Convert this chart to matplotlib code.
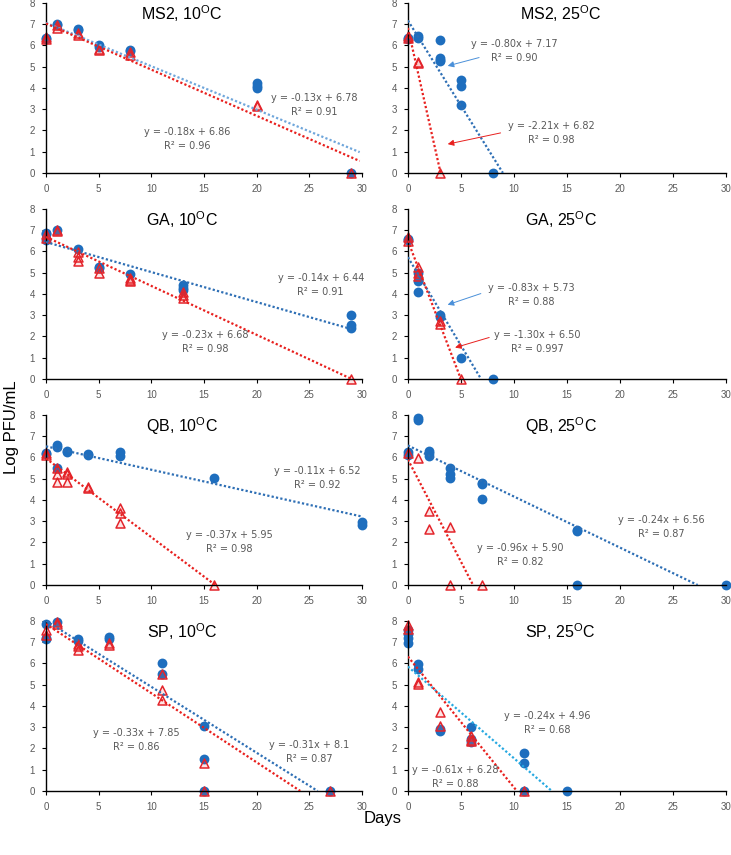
import matplotlib
matplotlib.use("Agg")
import matplotlib.pyplot as plt
import numpy as np

plt.rcParams['font.family'] = ['Liberation Sans', 'DejaVu Sans']
plt.rcParams['mathtext.default'] = 'regular'

# ---- data (days, log PFU/mL) ----
ms2_10_blue_x = [0, 0, 1, 1, 3, 3, 5, 5, 8, 8, 20, 20, 20, 29]
ms2_10_blue_y = [6.35, 6.3, 7.0, 6.95, 6.75, 6.7, 6.0, 5.9, 5.8, 5.75, 4.25, 4.1, 4.0, 0]
ms2_10_red_x = [0, 0, 1, 1, 3, 3, 5, 5, 8, 8, 20, 20, 29]
ms2_10_red_y = [6.4, 6.3, 6.95, 6.8, 6.6, 6.5, 5.85, 5.8, 5.7, 5.55, 3.2, 3.15, 0]

ms2_25_blue_x = [0, 0, 1, 1, 3, 3, 3, 3, 5, 5, 5, 8]
ms2_25_blue_y = [6.3, 6.35, 6.45, 6.35, 6.27, 5.4, 5.3, 5.25, 4.35, 4.1, 3.2, 0]
ms2_25_red_x = [0, 0, 1, 1, 3]
ms2_25_red_y = [6.45, 6.35, 5.2, 5.15, 0]

ga_10_blue_x = [0, 0, 0, 1, 3, 5, 5, 8, 13, 13, 13, 29, 29, 29]
ga_10_blue_y = [6.85, 6.8, 6.55, 7.0, 6.1, 5.25, 5.2, 4.95, 4.4, 4.3, 4.2, 3.0, 2.55, 2.4]
ga_10_red_x = [0, 0, 1, 1, 3, 3, 3, 5, 5, 8, 8, 8, 13, 13, 13, 29]
ga_10_red_y = [6.8, 6.65, 7.0, 6.95, 5.95, 5.75, 5.55, 5.2, 5.0, 4.75, 4.65, 4.6, 4.1, 3.95, 3.8, 0]

ga_25_blue_x = [0, 0, 1, 1, 1, 3, 3, 5, 8]
ga_25_blue_y = [6.6, 6.55, 5.0, 4.6, 4.1, 3.0, 2.9, 1.0, 0]
ga_25_red_x = [0, 0, 1, 1, 1, 3, 3, 5]
ga_25_red_y = [6.7, 6.5, 5.25, 5.0, 4.85, 2.75, 2.6, 0]

qb_10_blue_x = [0, 0, 1, 1, 1, 2, 2, 4, 4, 7, 7, 16, 30, 30]
qb_10_blue_y = [6.2, 6.15, 6.6, 6.5, 5.5, 6.3, 6.25, 6.15, 6.1, 6.25, 6.05, 5.05, 2.95, 2.8]
qb_10_red_x = [0, 0, 1, 1, 1, 2, 2, 2, 4, 4, 7, 7, 7, 16]
qb_10_red_y = [6.2, 6.1, 5.5, 5.2, 4.85, 5.3, 5.2, 4.85, 4.6, 4.55, 3.6, 3.4, 2.9, 0]

qb_25_blue_x = [0, 0, 1, 1, 2, 2, 2, 4, 4, 4, 7, 7, 7, 16, 16, 16, 30]
qb_25_blue_y = [6.25, 6.1, 7.85, 7.75, 6.3, 6.2, 6.05, 5.5, 5.2, 5.05, 4.8, 4.75, 4.05, 2.6, 2.55, 0, 0]
qb_25_red_x = [0, 1, 2, 2, 4, 4, 7]
qb_25_red_y = [6.2, 5.95, 3.5, 2.65, 2.75, 0, 0]

sp_10_blue_x = [0, 0, 0, 1, 3, 3, 6, 6, 11, 11, 15, 15, 15, 27]
sp_10_blue_y = [7.85, 7.2, 7.15, 7.95, 7.15, 7.05, 7.25, 7.15, 6.0, 5.5, 3.05, 1.5, 0, 0]
sp_10_red_x = [0, 0, 1, 1, 3, 3, 3, 6, 6, 11, 11, 11, 15, 15, 27]
sp_10_red_y = [7.55, 7.35, 7.95, 7.85, 6.9, 6.8, 6.65, 6.95, 6.85, 5.5, 4.75, 4.3, 1.3, 0, 0]

sp_25_blue_x = [0, 0, 0, 0, 1, 1, 3, 3, 6, 6, 6, 11, 11, 11, 15]
sp_25_blue_y = [7.55, 7.4, 7.2, 6.95, 5.95, 5.75, 2.9, 2.8, 3.0, 2.45, 2.3, 1.8, 1.3, 0, 0]
sp_25_red_x = [0, 0, 1, 1, 3, 3, 6, 6, 6, 11]
sp_25_red_y = [7.8, 7.6, 5.1, 5.05, 3.7, 3.05, 2.6, 2.4, 2.35, 0]

titles = ["MS2, 10$^{O}$C", "MS2, 25$^{O}$C", "GA, 10$^{O}$C", "GA, 25$^{O}$C",
          "QB, 10$^{O}$C", "QB, 25$^{O}$C", "SP, 10$^{O}$C", "SP, 25$^{O}$C"]

# trend lines as drawn (intercept, slope, last x; None = run to y = 0)
blue_fit = [(7.06, -0.204, 29.8), (7.17, -0.80, None), (6.44, -0.141, 29), (5.73, -0.83, None),
            (6.52, -0.11, 30), (6.56, -0.24, None), (8.0, -0.31, None), (5.85, -0.431, None)]
red_fit = [(7.03, -0.217, 29.8), (6.82, -2.21, None), (6.68, -0.23, 29), (6.50, -1.30, None),
           (5.95, -0.37, None), (5.90, -0.96, None), (7.85, -0.325, None), (6.32, -0.615, None)]

blue_eq = ["y = -0.13x + 6.78\nR² = 0.91", "y = -0.80x + 7.17\nR² = 0.90",
           "y = -0.14x + 6.44\nR² = 0.91", "y = -0.83x + 5.73\nR² = 0.88",
           "y = -0.11x + 6.52\nR² = 0.92", "y = -0.24x + 6.56\nR² = 0.87",
           "y = -0.31x + 8.1\nR² = 0.87", "y = -0.24x + 4.96\nR² = 0.68"]
red_eq = ["y = -0.18x + 6.86\nR² = 0.96", "y = -2.21x + 6.82\nR² = 0.98",
          "y = -0.23x + 6.68\nR² = 0.98", "y = -1.30x + 6.50\nR² = 0.997",
          "y = -0.37x + 5.95\nR² = 0.98", "y = -0.96x + 5.90\nR² = 0.82",
          "y = -0.33x + 7.85\nR² = 0.86", "y = -0.61x + 6.28\nR² = 0.88"]

panels = [
    (ms2_10_blue_x, ms2_10_blue_y, ms2_10_red_x, ms2_10_red_y),
    (ms2_25_blue_x, ms2_25_blue_y, ms2_25_red_x, ms2_25_red_y),
    (ga_10_blue_x, ga_10_blue_y, ga_10_red_x, ga_10_red_y),
    (ga_25_blue_x, ga_25_blue_y, ga_25_red_x, ga_25_red_y),
    (qb_10_blue_x, qb_10_blue_y, qb_10_red_x, qb_10_red_y),
    (qb_25_blue_x, qb_25_blue_y, qb_25_red_x, qb_25_red_y),
    (sp_10_blue_x, sp_10_blue_y, sp_10_red_x, sp_10_red_y),
    (sp_25_blue_x, sp_25_blue_y, sp_25_red_x, sp_25_red_y),
]

# label positions (data coords) and arrows (text end -> head)
blue_txt_pos = [(25.5, 3.2), (10.0, 5.73), (26.1, 4.44), (11.6, 3.94),
                (25.8, 5.04), (23.9, 2.73), (25.0, 1.85), (13.1, 3.18)]
red_txt_pos = [(13.4, 1.6), (13.5, 1.88), (15.1, 1.73), (12.25, 1.76),
               (17.4, 2.04), (10.6, 1.43), (8.6, 2.4), (4.5, 0.66)]
blue_arrows = {1: ((6.97, 5.46), (3.5, 5.0)), 3: ((7.13, 4.06), (3.5, 3.45))}
red_arrows = {1: ((9.0, 1.91), (3.5, 1.33)), 3: ((7.92, 1.99), (4.2, 1.44))}

blue_line_col = ['#6FA6DB', '#2E6FB5', '#2E6FB5', '#2E6FB5', '#2E6FB5', '#2E6FB5', '#2E6FB5', '#27A9E1']
BLUE = '#1E6EBE'
RED = '#E3242B'
GRAY = '#595959'

fig = plt.figure(figsize=(7.31, 8.55), dpi=100)
lefts = [0.0629, 0.558]
widths = [0.432, 0.435]
bottoms = [0.7977, 0.5567, 0.3158, 0.0749]
height = 0.199
title_x = [0.43, 0.48]

for i, (bx, by, rx, ry) in enumerate(panels):
    col, row = i % 2, i // 2
    ax = fig.add_axes([lefts[col], bottoms[row], widths[col], height])

    ax.scatter(bx, by, s=50, color=BLUE, zorder=2, clip_on=False, linewidths=0)
    ax.scatter(rx, ry, s=42, marker='^', facecolors=(0.95, 0.3, 0.3, 0.15),
               edgecolors=RED, linewidths=1.1, zorder=2.5, clip_on=False)

    for (b, m, xend), c in [(blue_fit[i], blue_line_col[i]), (red_fit[i], '#E8201E')]:
        if xend is None:
            xend = -b / m
        xs = np.array([0, xend])
        ax.plot(xs, b + m * xs, linestyle=(0, (1, 1)), color=c, lw=1.6, zorder=3)

    ax.text(*blue_txt_pos[i], blue_eq[i], ha='center', va='center', fontsize=7,
            color=GRAY, family='DejaVu Sans', linespacing=1.5)
    ax.text(*red_txt_pos[i], red_eq[i], ha='center', va='center', fontsize=7,
            color=GRAY, family='DejaVu Sans', linespacing=1.5)

    if i in blue_arrows:
        tail, head = blue_arrows[i]
        ax.annotate('', xy=head, xytext=tail,
                    arrowprops=dict(arrowstyle='-|>', color='#4A90D9', lw=0.7, mutation_scale=9))
        tail, head = red_arrows[i]
        ax.annotate('', xy=head, xytext=tail,
                    arrowprops=dict(arrowstyle='-|>', color='#E8201E', lw=0.7, mutation_scale=9))

    ax.text(title_x[col], 0.935, titles[i], transform=ax.transAxes, ha='center',
            va='center', fontsize=11.5)

    ax.set_xlim(0, 30)
    ax.set_ylim(0, 8)
    ax.set_xticks(range(0, 31, 5))
    ax.set_yticks(range(0, 9))
    for s in ['top', 'right']:
        ax.spines[s].set_visible(False)
    for s in ['left', 'bottom']:
        ax.spines[s].set_linewidth(1.0)
    ax.tick_params(labelsize=7, labelcolor=GRAY, length=3, width=0.8, direction='out', pad=5)
    ax.patch.set_alpha(0)

fig.text(0.016, 0.5, "Log PFU/mL", rotation=90, va='center', ha='center', fontsize=12)
fig.text(0.524, 0.043, "Days", ha='center', va='center', fontsize=12)

fig.savefig("out.png", dpi=100)
